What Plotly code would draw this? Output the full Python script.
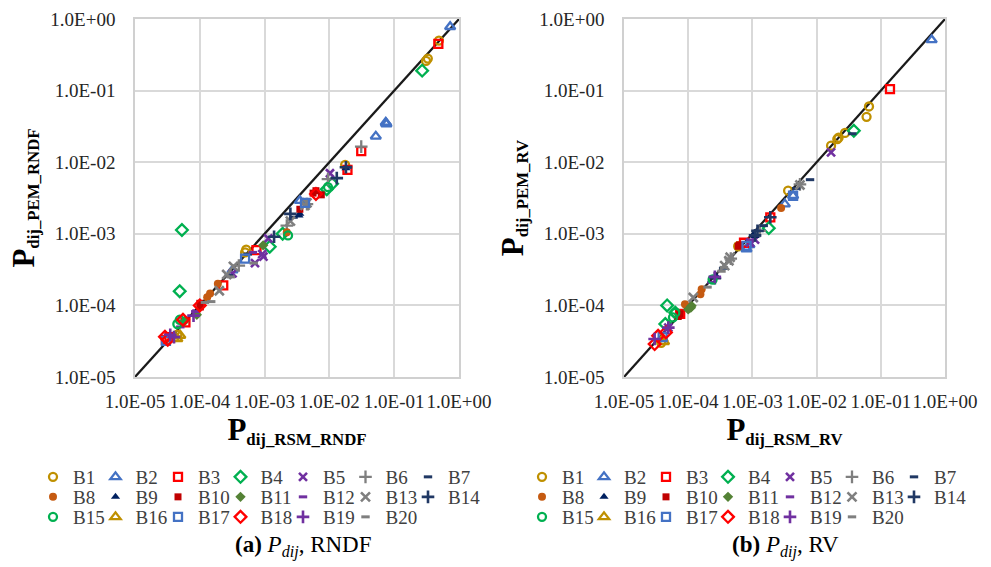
import plotly.graph_objects as go

SERIES = ["B1", "B2", "B3", "B4", "B5", "B6", "B7", "B8", "B9", "B10",
          "B11", "B12", "B13", "B14", "B15", "B16", "B17", "B18", "B19", "B20"]
TICK_VALS = [1e-5, 1e-4, 1e-3, 1e-2, 1e-1, 1.0]
TICK_LABELS = ["1.0E-05", "1.0E-04", "1.0E-03", "1.0E-02", "1.0E-01", "1.0E+00"]
DIAG = [1e-5, 1.0]

# ---------------- Panel (a): RNDF  (x = P_dij_RSM_RNDF, y = P_dij_PEM_RNDF)
A_B1_X = [0.49, 0.33, 0.31, 0.0175, 0.0005, 0.00052, 0.000041, 0.000045]
A_B1_Y = [0.50, 0.28, 0.26, 0.0092, 0.00055, 0.0006, 0.000036, 0.000039]
A_B2_X = [0.73, 0.075, 0.076, 0.074, 0.052, 0.0035, 0.00032]
A_B2_Y = [0.78, 0.035, 0.034, 0.036, 0.023, 0.0029, 0.00031]
A_B3_X = [0.48, 0.031, 0.019, 0.00075, 0.00023, 0.000034, 0.00003, 0.00006]
A_B3_Y = [0.45, 0.0143, 0.0078, 0.00059, 0.00019, 0.000036, 0.000033, 0.000058]
A_B4_X = [0.27, 0.011, 0.0091, 0.0012, 0.0019, 0.000053, 0.000049]
A_B4_Y = [0.19, 0.005, 0.0042, 0.00066, 0.001, 0.00113, 0.000158]
A_B5_X = [0.0102, 0.00114, 0.00096, 0.00092, 0.00071, 0.00032]
A_B5_Y = [0.007, 0.00086, 0.00048, 0.00052, 0.00039, 0.00028]
A_B6_X = [0.031, 0.0095, 0.0045, 0.0022, 0.0004]
A_B6_Y = [0.0165, 0.0058, 0.0026, 0.0013, 0.00036]
A_B7_X = [0.019, 0.0028, 0.00055, 0.00028]
A_B7_Y = [0.0085, 0.0017, 0.00052, 0.00026]
A_B8_X = [0.00019, 0.000144, 0.00013, 0.0022]
A_B8_Y = [0.0002, 0.000147, 0.00013, 0.00105]
A_B9_X = [0.018, 0.0035, 0.0034]
A_B9_Y = [0.0082, 0.0019, 0.0018]
A_B10_X = [0.0056, 0.0075, 0.0062, 0.0001, 0.000102, 0.0035]
A_B10_Y = [0.0037, 0.0035, 0.004, 0.000107, 0.000095, 0.0022]
A_B11_X = [0.00009, 0.00095, 0.000058]
A_B11_Y = [0.000074, 0.00069, 0.00006]
A_B12_X = [0.00066, 0.000085, 0.00005]
A_B12_Y = [0.00055, 0.000082, 0.00005]
A_B13_X = [0.0045, 0.0042, 0.0025, 0.00033, 0.00026, 0.0002]
A_B13_Y = [0.0027, 0.0025, 0.0015, 0.00035, 0.00027, 0.00016]
A_B14_X = [0.013, 0.0025, 0.0014, 0.018]
A_B14_Y = [0.006, 0.0019, 0.00091, 0.0085]
A_B15_X = [0.000049, 0.000045, 0.0095, 0.0023]
A_B15_Y = [0.000063, 0.000055, 0.0045, 0.00095]
A_B16_X = [0.000045, 0.00005]
A_B16_Y = [0.000034, 0.000038]
A_B17_X = [0.0042, 0.0005, 0.00003]
A_B17_Y = [0.0027, 0.00045, 0.000032]
A_B18_X = [0.000029, 0.000032, 0.000055, 0.0001, 0.0062]
A_B18_Y = [0.0000366, 0.000033, 0.000063, 0.0001, 0.0036]
A_B19_X = [0.000035, 0.00004, 0.00008]
A_B19_Y = [0.000039, 0.000036, 0.000072]
A_B20_X = [0.00015, 0.00012, 0.00068, 0.0003]
A_B20_Y = [0.000113, 0.00011, 0.00039, 0.00025]

# ---------------- Panel (b): RV  (x = P_dij_RSM_RV, y = P_dij_PEM_RV)
B_B1_X = [0.0655, 0.06, 0.0277, 0.022, 0.021, 0.0168, 0.0036, 0.0006, 0.000038]
B_B1_Y = [0.06, 0.043, 0.0256, 0.022, 0.021, 0.017, 0.004, 0.00067, 0.00003]
B_B2_X = [0.62, 0.0032, 0.0043, 0.00081, 0.0009]
B_B2_Y = [0.51, 0.0026, 0.0034, 0.00061, 0.0007]
B_B3_X = [0.139, 0.0019, 0.00074, 0.000075]
B_B3_Y = [0.105, 0.0017, 0.00075, 0.000076]
B_B4_X = [0.038, 0.0018, 0.000047, 0.000063, 0.000044]
B_B4_Y = [0.0275, 0.0012, 0.0001, 0.000079, 0.000055]
B_B5_X = [0.0168, 0.0011, 0.00092, 0.000049]
B_B5_Y = [0.0137, 0.00083, 0.00075, 0.000049]
B_B6_X = [0.0055, 0.0013, 0.00046]
B_B6_Y = [0.0049, 0.0011, 0.00045]
B_B7_X = [0.0079, 0.036, 0.0048, 0.0015, 0.00035]
B_B7_Y = [0.0057, 0.025, 0.0043, 0.0013, 0.00033]
B_B8_X = [0.0028, 0.000162, 0.000155, 0.000089]
B_B8_Y = [0.0023, 0.000168, 0.000143, 0.000104]
B_B9_X = [0.0011, 0.00105, 0.00028]
B_B9_Y = [0.00093, 0.00098, 0.00025]
B_B10_X = [0.0006, 0.00063, 0.000074, 0.00007]
B_B10_Y = [0.00067, 0.0007, 0.000076, 0.00007]
B_B11_X = [0.000113, 0.0001, 0.00011]
B_B11_Y = [0.0000985, 0.000088, 0.000093]
B_B12_X = [0.00095, 0.00023]
B_B12_Y = [0.00082, 0.00021]
B_B13_X = [0.00045, 0.00037, 0.00043, 0.00012, 0.0055]
B_B13_Y = [0.00047, 0.00036, 0.00042, 0.000129, 0.0048]
B_B14_X = [0.0019, 0.0011, 0.0012, 0.00026]
B_B14_Y = [0.0017, 0.00095, 0.0011, 0.00024]
B_B15_X = [0.000063, 0.000058, 0.00024]
B_B15_Y = [0.000079, 0.000068, 0.00023]
B_B16_X = [0.000042, 0.00004]
B_B16_Y = [0.000031, 0.000034]
B_B17_X = [0.0043, 0.00004, 0.00081]
B_B17_Y = [0.0034, 0.000036, 0.00068]
B_B18_X = [0.000034, 0.00003, 0.000045]
B_B18_Y = [0.0000376, 0.0000288, 0.000042]
B_B19_X = [0.00003, 0.000049, 0.00026]
B_B19_Y = [0.000034, 0.000049, 0.00025]
B_B20_X = [0.00036, 0.00033, 0.0002]
B_B20_Y = [0.00034, 0.0003, 0.00018]

g = globals()
PANEL_A = {s: (g[f"A_{s}_X"], g[f"A_{s}_Y"]) for s in SERIES}
PANEL_B = {s: (g[f"B_{s}_X"], g[f"B_{s}_Y"]) for s in SERIES}

# marker styles: color, symbol, size, line width
STYLE = {
    "B1": ("#BF9000", "circle-open", 8, 2.3),
    "B2": ("#4472C4", "triangle-up-open", 9, 2.3),
    "B3": ("#FF0000", "square-open", 8, 2.3),
    "B4": ("#00B050", "diamond-open", 9, 2.3),
    "B5": ("#7030A0", "x-thin-open", 8, 2.6),
    "B6": ("#7F7F7F", "cross-thin-open", 9, 2.3),
    "B7": ("#203864", "line-ew-open", 6, 3),
    "B8": ("#C55A11", "circle", 8, 0),
    "B9": ("#002060", "triangle-up", 8, 0),
    "B10": ("#C00000", "square", 7, 0),
    "B11": ("#548235", "diamond", 8, 0),
    "B12": ("#7030A0", "line-ew-open", 6, 3),
    "B13": ("#7F7F7F", "x-thin-open", 9, 2.6),
    "B14": ("#203864", "cross-thin-open", 9, 2.6),
    "B15": ("#00B050", "circle-open", 8, 2.3),
    "B16": ("#BF9000", "triangle-up-open", 9, 2.3),
    "B17": ("#4472C4", "square-open", 8, 2.3),
    "B18": ("#FF0000", "diamond-open", 9, 2.3),
    "B19": ("#7030A0", "cross-thin-open", 9, 2.6),
    "B20": ("#7F7F7F", "line-ew-open", 6, 3),
}

FONT = "Liberation Serif, Times New Roman, serif"
W, H = 991, 567

fig = go.Figure()

LEGS_A = ["legend", "legend2", "legend3"]
LEGS_B = ["legend4", "legend5", "legend6"]
panels = [(PANEL_A, "x", "y", LEGS_A), (PANEL_B, "x2", "y2", LEGS_B)]
for data, xa, ya, legs in panels:
    fig.add_trace(go.Scatter(x=DIAG, y=DIAG, mode="lines", xaxis=xa, yaxis=ya,
                             line=dict(color="#1a1a1a", width=2.2),
                             showlegend=False, hoverinfo="skip"))
    for i, s in enumerate(SERIES):
        c, sym, sz, lw = STYLE[s]
        xs, ys = data[s]
        fig.add_trace(go.Scatter(
            x=xs, y=ys, mode="markers", name=s, xaxis=xa, yaxis=ya,
            legend=legs[i // 7],
            marker=dict(color=c, symbol=sym, size=sz,
                        line=dict(color=c, width=lw)),
        ))
    # invisible spacer so the last entry of each legend row is not clipped
    for lg in legs:
        fig.add_trace(go.Scatter(x=[None], y=[None], mode="markers", name=" ",
                                 xaxis=xa, yaxis=ya, legend=lg,
                                 marker=dict(color="rgba(0,0,0,0)", size=1,
                                             line=dict(width=0)),
                                 hoverinfo="skip"))

axis_common = dict(
    type="log", range=[-5, 0], tickvals=TICK_VALS, ticktext=TICK_LABELS,
    showgrid=True, gridcolor="#D9D9D9", gridwidth=1.5,
    showline=True, linecolor="#D0D0D0", linewidth=1.5, mirror=True,
    zeroline=False, ticks="", tickangle=0,
    tickfont=dict(family=FONT, size=19, color="#262626"),
    title_font=dict(family=FONT, size=24, color="#000000"),
)

def title(sub):
    return f'<b><span style="font-size:31px">P</span><sub>{sub}</sub></b>'

ydom = [1 - 377 / H, 1 - 19 / H]
fig.update_layout(
    width=W, height=H,
    margin=dict(l=0, r=0, t=0, b=0, autoexpand=False),
    paper_bgcolor="white", plot_bgcolor="white",
    font=dict(family=FONT),
    xaxis=dict(axis_common, domain=[135 / W, 459 / W], anchor="y",
               title=dict(text=title("dij_RSM_RNDF"), standoff=8),
               ticklabelstandoff=6),
    yaxis=dict(axis_common, domain=ydom, anchor="x",
               title=dict(text=title("dij_PEM_RNDF"), standoff=9),
               ticklabelstandoff=14),
    xaxis2=dict(axis_common, domain=[624 / W, 945 / W], anchor="y2",
                title=dict(text=title("dij_RSM_RV"), standoff=8),
                ticklabelstandoff=6),
    yaxis2=dict(axis_common, domain=ydom, anchor="x2",
                title=dict(text=title("dij_PEM_RV"), standoff=9),
                ticklabelstandoff=14),
    showlegend=True,
)

leg_font = dict(family=FONT, size=19, color="#404040")
row_y = [1 - 477 / H, 1 - 497 / H, 1 - 517 / H]
for lx, ew, names in [(33 / W, 17.5, LEGS_A), (522 / W, 17, LEGS_B)]:
    for r, nm in enumerate(names):
        fig.update_layout({nm: dict(
            orientation="h", x=lx, xanchor="left", y=row_y[r], yanchor="middle",
            font=leg_font, entrywidth=ew, entrywidthmode="pixels",
            bgcolor="rgba(0,0,0,0)", borderwidth=0, itemclick=False,
            tracegroupgap=0, itemsizing="trace",
        )})

cap_y = 1 - 546 / H
fig.add_annotation(text="<b>(a)</b> <i>P<sub>dij</sub></i>, RNDF", x=303 / W, y=cap_y,
                   xref="paper", yref="paper", showarrow=False,
                   xanchor="center", yanchor="middle",
                   font=dict(family=FONT, size=23, color="#000000"))
fig.add_annotation(text="<b>(b)</b> <i>P<sub>dij</sub></i>, RV", x=785 / W, y=cap_y,
                   xref="paper", yref="paper", showarrow=False,
                   xanchor="center", yanchor="middle",
                   font=dict(family=FONT, size=23, color="#000000"))

fig.write_html("out.html")
